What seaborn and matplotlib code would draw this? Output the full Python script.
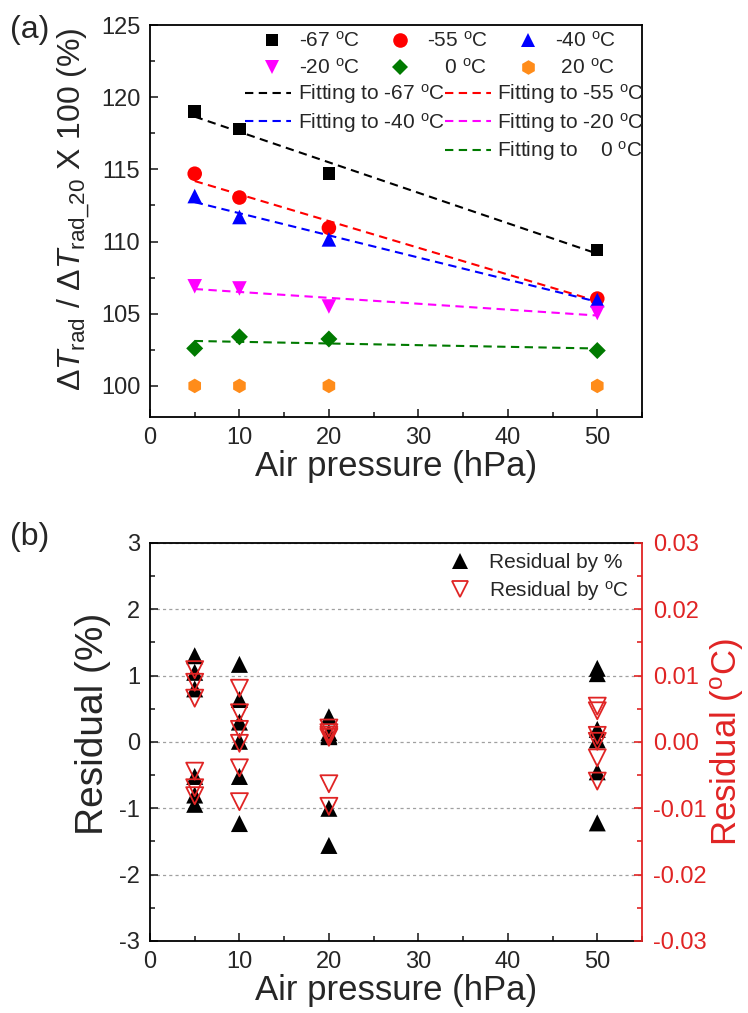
import numpy as np
import pandas as pd
import matplotlib
matplotlib.use("Agg")
import matplotlib.pyplot as plt
import seaborn as sns
from matplotlib.lines import Line2D
from matplotlib.ticker import MultipleLocator, FormatStrFormatter

# ---------------- data ----------------
pressure = [5, 10, 20, 50]
ratio_m67 = [119.0, 117.8, 114.7, 109.4]
ratio_m55 = [114.7, 113.05, 110.95, 106.05]
ratio_m40 = [113.15, 111.7, 110.15, 105.95]
ratio_m20 = [106.9, 106.75, 105.5, 105.05]
ratio_0 = [102.6, 103.4, 103.25, 102.45]
ratio_20 = [100.0, 100.0, 100.0, 100.0]

series_labels = ["-67", "-55", "-40", "-20", "0", "20"]

resid_x = [5] * 6 + [10] * 6 + [20] * 6 + [50] * 6
resid_pct = [1.30, 1.05, 0.80, -0.52, -0.80, -0.94,
             1.17, 0.64, 0.30, 0.01, -0.52, -1.23,
             0.38, 0.14, 0.10, 0.08, -1.00, -1.56,
             1.11, 1.03, 0.19, 0.03, -0.45, -1.22]
resid_degc = [0.0109, 0.0090, 0.0066, -0.0044, -0.0069, -0.0081,
              0.0081, 0.0044, 0.0019, -0.0002, -0.0039, -0.0090,
              0.0021, 0.0014, 0.0007, 0.0010, -0.0063, -0.0097,
              0.0054, 0.0047, 0.0010, 0.0001, -0.0024, -0.0059]

# ---------------- style ----------------
sns.set_style("ticks")
plt.rcParams['font.family'] = ['Liberation Sans', 'DejaVu Sans']
plt.rcParams['mathtext.fontset'] = 'custom'
plt.rcParams['mathtext.rm'] = 'Liberation Sans'
plt.rcParams['mathtext.it'] = 'Liberation Sans:italic'
plt.rcParams['mathtext.bf'] = 'Liberation Sans:bold'
plt.rcParams['axes.linewidth'] = 1.3
plt.rcParams['axes.edgecolor'] = 'black'
plt.rcParams['axes.unicode_minus'] = False

RED = '#E02424'
deg = r'$^{\mathregular{o}}$C'

fig = plt.figure(figsize=(7.48, 10.13), dpi=100)
ax1 = fig.add_axes([0.2005, 0.5884, 0.6578, 0.3869])
ax2 = fig.add_axes([0.2005, 0.0711, 0.6578, 0.3929])

# ---------------- panel (a) ----------------
ratios = [ratio_m67, ratio_m55, ratio_m40, ratio_m20, ratio_0, ratio_20]
colors = ['black', '#FF0000', '#0000FF', '#FF00FF', '#007A00', '#FF8C1A']
markers = ['s', 'o', '^', 'v', 'D', 'h']
sizes = [80, 110, 110, 110, 75, 110]

for vals, c in zip(ratios[:5], colors[:5]):
    sns.regplot(x=pressure, y=vals, ci=None, scatter=False, truncate=True,
                ax=ax1, line_kws=dict(color=c, lw=1.5, ls=(0, (4, 2.6))))
for vals, c, m, s in zip(ratios, colors, markers, sizes):
    sns.scatterplot(x=pressure, y=vals, marker=m, color=c, s=s,
                    edgecolor='none', ax=ax1, legend=False, zorder=3)

ax1.set_xlim(0, 55)
ax1.set_ylim(97.85, 125)
ax1.xaxis.set_major_locator(MultipleLocator(10))
ax1.xaxis.set_minor_locator(MultipleLocator(5))
ax1.yaxis.set_major_locator(MultipleLocator(5))
ax1.yaxis.set_minor_locator(MultipleLocator(2.5))
ax1.tick_params(which='both', direction='in', labelsize=17, top=False, right=False)
ax1.tick_params(which='major', length=6, width=1.2, pad=7)
ax1.tick_params(which='minor', length=3.5, width=1.2)
ax1.set_xlabel('Air pressure (hPa)', fontsize=25, labelpad=1)
ax1.set_ylabel(r'$\Delta\mathit{T}_{\mathregular{rad}}$ / $\Delta\mathit{T}_{\mathregular{rad\_20}}$ X 100 (%)',
               fontsize=23)
ax1.yaxis.set_label_coords(-0.118, 0.53)

marker_labels = ['-67 ' + deg, '-55 ' + deg, '-40 ' + deg,
                 '-20 ' + deg, '   0 ' + deg, ' 20 ' + deg]
mh = [Line2D([], [], ls='none', marker=m, color=c, markersize=ms, markeredgewidth=0)
      for m, c, ms in zip(markers, colors, [9, 10.5, 10.5, 10.5, 8.5, 10.5])]
order = [0, 3, 1, 4, 2, 5]
leg1 = ax1.legend([mh[i] for i in order], [marker_labels[i] for i in order],
                  ncol=3, loc='upper right', bbox_to_anchor=(0.955, 0.995),
                  frameon=False, fontsize=15, handlelength=2.0, handletextpad=0.3,
                  columnspacing=0.9, labelspacing=0.32, borderaxespad=0, borderpad=0.2)
ax1.add_artist(leg1)

fit_handles = [Line2D([], [], color=c, lw=1.5, ls=(0, (4, 2.6))) for c in colors[:5]]
fit_labels = ['Fitting to -67 ' + deg, 'Fitting to -55 ' + deg, 'Fitting to -40 ' + deg,
              'Fitting to -20 ' + deg, 'Fitting to    0 ' + deg]
blank = Line2D([], [], ls='none')
h_order = [fit_handles[0], fit_handles[2], blank, fit_handles[1], fit_handles[3], fit_handles[4]]
l_order = [fit_labels[0], fit_labels[2], '', fit_labels[1], fit_labels[3], fit_labels[4]]
ax1.legend(h_order, l_order, ncol=2, loc='upper right', bbox_to_anchor=(1.012, 0.865),
           frameon=False, fontsize=15, handlelength=2.2, handletextpad=0.3,
           columnspacing=0.02, labelspacing=0.22, borderaxespad=0, borderpad=0.2)

fig.text(0.013, 0.985, '(a)', fontsize=23, va='top', ha='left')

# ---------------- panel (b) ----------------
ax2r = ax2.twinx()
ax2.set_position([0.2005, 0.0711, 0.6578, 0.3929])
ax2r.set_position([0.2005, 0.0711, 0.6578, 0.3929])

sns.scatterplot(x=resid_x, y=resid_pct, marker='^', color='black', s=150,
                edgecolor='none', ax=ax2, legend=False, zorder=3)
sns.scatterplot(x=resid_x, y=resid_degc, marker='v', facecolor='none', edgecolor=RED,
                linewidth=1.3, s=150, ax=ax2r, legend=False, zorder=4)

ax2.set_xlim(0, 55)
ax2.set_ylim(-3, 3)
ax2r.set_ylim(-0.03, 0.03)
ax2.xaxis.set_major_locator(MultipleLocator(10))
ax2.xaxis.set_minor_locator(MultipleLocator(5))
ax2.yaxis.set_major_locator(MultipleLocator(1))
ax2.yaxis.set_minor_locator(MultipleLocator(0.5))
ax2r.yaxis.set_major_locator(MultipleLocator(0.01))
ax2r.yaxis.set_minor_locator(MultipleLocator(0.005))
ax2r.yaxis.set_major_formatter(FormatStrFormatter('%.2f'))

ax2.yaxis.grid(True, which='major', color='#A0A0A0', lw=0.9, ls=(0, (2.5, 2.5)))
ax2.set_axisbelow(True)

ax2.tick_params(which='both', direction='in', labelsize=17, top=False, right=False)
ax2.tick_params(which='major', length=6, width=1.2, pad=7)
ax2.tick_params(which='minor', length=3.5, width=1.2)
ax2r.tick_params(which='both', direction='in', labelsize=17, colors=RED,
                 left=False, top=False, bottom=False)
ax2r.tick_params(which='major', length=6, width=1.2, pad=8)
ax2r.tick_params(which='minor', length=3.5, width=1.2)

ax2.spines['right'].set_visible(False)
for s in ['left', 'top', 'bottom']:
    ax2r.spines[s].set_visible(False)
ax2r.spines['right'].set_color(RED)
ax2r.spines['right'].set_linewidth(1.3)

ax2.set_xlabel('Air pressure (hPa)', fontsize=25, labelpad=1)
ax2.set_ylabel('Residual (%)', fontsize=28)
ax2.yaxis.set_label_coords(-0.08, 0.545)
ax2r.set_ylabel('Residual (' + deg + ')', fontsize=25, color=RED, labelpad=1)

rh = [Line2D([], [], ls='none', marker='^', color='black', markersize=11, markeredgewidth=0),
      Line2D([], [], ls='none', marker='v', markerfacecolor='none', markeredgecolor=RED,
             markersize=11, markeredgewidth=1.3)]
ax2r.legend(rh, ['Residual by %', 'Residual by ' + deg], loc='upper right',
            bbox_to_anchor=(0.995, 1.0), frameon=False, fontsize=15, handlelength=1.6,
            handletextpad=0.6, labelspacing=0.3, borderaxespad=0.2, borderpad=0.3)

fig.text(0.013, 0.485, '(b)', fontsize=23, va='top', ha='left')

fig.savefig('out.png', dpi=100)
